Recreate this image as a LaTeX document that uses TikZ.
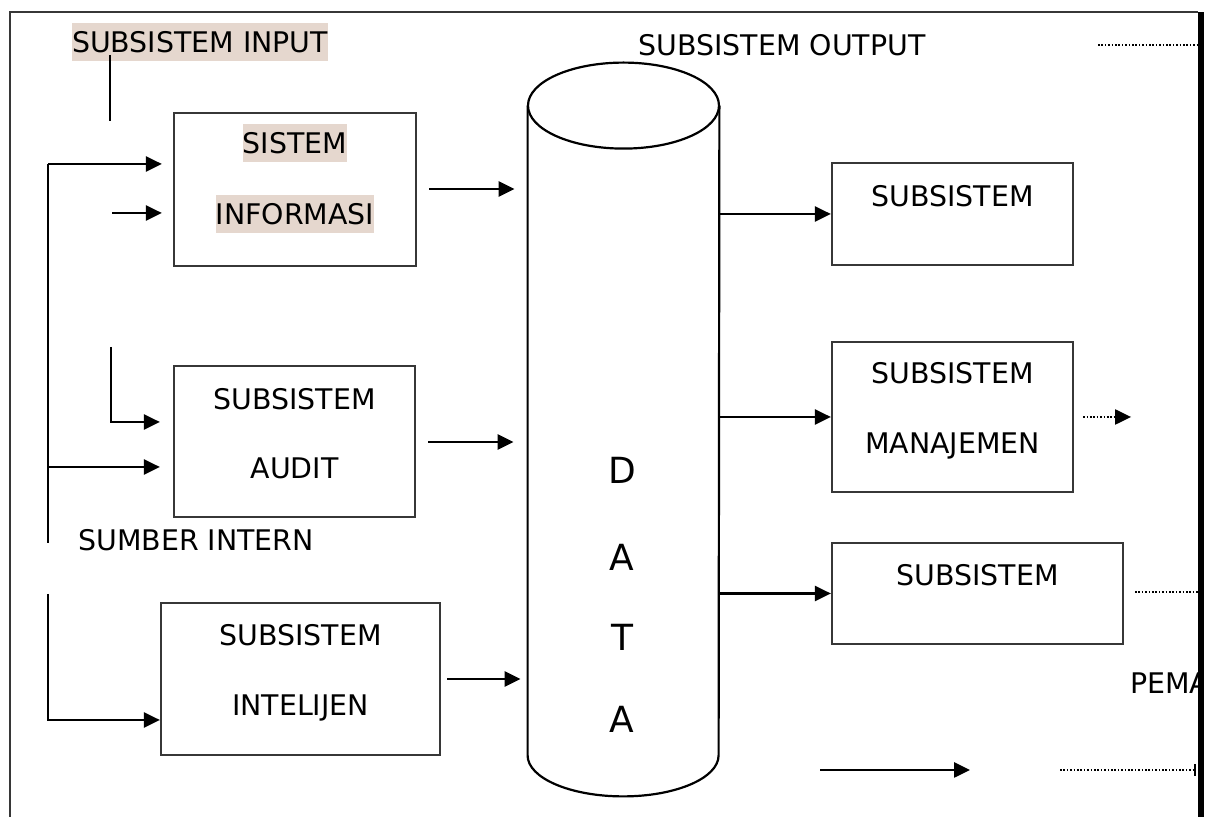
\documentclass[tikz,border=0pt]{standalone}
\usepackage{fontspec}
\setmainfont{DejaVu Sans}
\usepackage{tikz}
\usetikzlibrary{arrows.meta,calc}
\definecolor{hilite}{RGB}{229,215,206}
\definecolor{framegray}{RGB}{55,55,55}

\begin{document}
\begin{tikzpicture}[x=0.5pt, y=-0.5pt,
    txt/.style={font=\fontsize{14.2}{17}\selectfont, text height=10.4pt, text depth=0pt, inner xsep=0pt, inner ysep=4.3pt},
    hl/.style={txt, fill=hilite},
    box/.style={draw=framegray, line width=1.1pt, rectangle, inner sep=0pt},
    arr/.style={line width=1.3pt, -{Triangle[length=8pt, width=7.5pt]}},
    dots/.style={line width=1.1pt, dash pattern=on 0.8pt off 0.9pt},
    big/.style={font=\fontsize{18}{20}\selectfont, text height=13.1pt, text depth=0pt}]
    \useasboundingbox (0,0) rectangle (1212,817);

    % Titles
    \node[hl] (intitle) at (200,42) {SUBSISTEM INPUT};
    \node[txt] (outtitle) at (782,45) {SUBSISTEM OUTPUT};
    \node[txt] (sumber) at (196,540) {SUMBER INTERN};
    \node[txt, anchor=west] (pema) at (1130,683) {PEMA};

    % Input side
    \node[box, minimum width=121pt, minimum height=76.5pt] (si) at (295,189.5) {};
    \node[hl] (si1) at (295,143) {SISTEM};
    \node[hl] (si2) at (295,214.5) {INFORMASI};
    \node[box, minimum width=120.5pt, minimum height=75.5pt] (audit) at (294.5,441.5) {};
    \node[txt] (audit1) at (294.5,399) {SUBSISTEM};
    \node[txt] (audit2) at (294.5,468) {AUDIT};
    \node[box, minimum width=139.5pt, minimum height=76pt] (intel) at (300.5,679) {};
    \node[txt] (intel1) at (300.5,635) {SUBSISTEM};
    \node[txt] (intel2) at (300.5,705) {INTELIJEN};

    % Data store
    \node[minimum width=95.5pt, minimum height=366.5pt, inner sep=0pt] (data) at (623.5,429.5) {};
    \draw[line width=1.1pt] ([yshift=-21.5pt]data.north west) -- ([yshift=20.5pt]data.south west)
        arc[start angle=180, end angle=360, x radius=47.75pt, y radius=20.5pt] -- ([yshift=-21.5pt]data.north east);
    \draw[line width=1.1pt] ([yshift=-21.5pt]data.north) ellipse[x radius=47.75pt, y radius=21.5pt];
    \foreach \ch/\yy [count=\i] in {D/470, A/557, T/637, A/719}
        \node[big] (data\i) at (622,\yy) {\ch};

    % Output side
    \node[box, minimum width=120.5pt, minimum height=51pt] (lapor) at (952.5,214) {};
    \node[txt] (lapor1) at (952.5,196) {SUBSISTEM};
    \node[box, minimum width=120.5pt, minimum height=75pt] (manaj) at (952.5,417) {};
    \node[txt] (manaj1) at (952.5,373) {SUBSISTEM};
    \node[txt] (manaj2) at (952.5,443) {MANAJEMEN};
    \node[box, minimum width=145.5pt, minimum height=50.5pt] (pakai) at (977.5,593.5) {};
    \node[txt] (pakai1) at (977.5,575) {SUBSISTEM};

    % Feed lines
    \coordinate (instub) at (110,55);
    \coordinate (feedtop) at (48,164);
    \coordinate (feedmid) at (48,467);
    \coordinate (feedend) at (48,543);
    \coordinate (feedgo) at (48,594);
    \coordinate (feedbot) at (48,720);
    \coordinate (sidein) at (112,213);
    \coordinate (auditstub) at (111,347);
    \coordinate (auditin) at (111,422);
    \draw[line width=1.2pt] (instub) -- ++(0,66);
    \draw[line width=1.2pt] (feedtop) -- (feedend);
    \draw[arr, shorten >=5.5pt] (feedtop) -- (feedtop -| si.west);
    \draw[arr, shorten >=5.5pt] (sidein) -- (sidein -| si.west);
    \draw[arr, shorten >=6.5pt] (auditstub) -- (auditin) -- (auditin -| audit.west);
    \draw[arr, shorten >=6.5pt] (feedmid) -- (feedmid -| audit.west);
    \draw[arr] (feedgo) -- (feedbot) -- (feedbot -| intel.west);

    % Into the data store
    \draw[arr, shorten <=6pt, shorten >=6.5pt] (si.east |- 0,189) -- (data.west |- 0,189);
    \draw[arr, shorten <=6pt, shorten >=7pt] (audit.east |- 0,442) -- (data.west |- 0,442);
    \draw[arr, shorten <=3pt, shorten >=3.5pt] (intel.east) -- (intel.east -| data.west);

    % Out of the data store
    \draw[arr] (data.east |- lapor.west) -- (lapor.west);
    \draw[arr] (data.east |- manaj.west) -- (manaj.west);
    \draw[arr] (data.east |- pakai.west) -- (pakai.west);

    % Dotted ends
    \coordinate (dottop) at (1098,45);
    \coordinate (dotpakai) at (1135,592);
    \coordinate (arrstart) at (820,770);
    \coordinate (arrend) at (970,770);
    \coordinate (dotstart) at (1060,770);
    \draw[dots] (dottop) -- (1198,45);
    \draw[dots] (dotpakai) -- (1198,592);
    \draw[dots, shorten <=4.5pt, -{Triangle[length=8pt, width=7.5pt]}] (manaj.east) -- ++(57,0);
    \draw[arr] (arrstart) -- (arrend);
    \draw[dots] (dotstart) -- (1194,770);
    \draw[line width=1.3pt] (1195,764) -- (1195,776);

    % Frame
    \fill[white] (1204,0) rectangle (1212,817);
    \draw[framegray, line width=1.1pt] (10,817) -- (10,12) -- (1198,12);
    \fill (1198,12) rectangle (1204,817);
\end{tikzpicture}
\end{document}
